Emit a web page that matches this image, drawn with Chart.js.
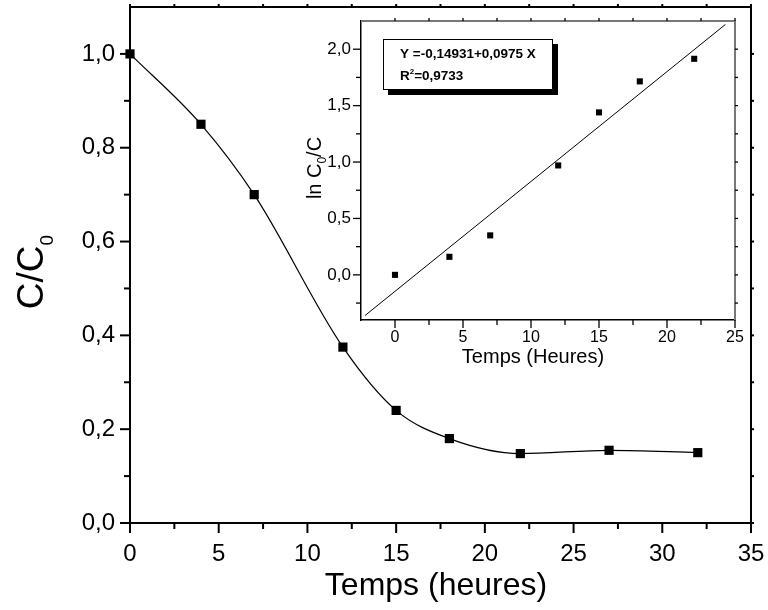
<!DOCTYPE html>
<html>
<head>
<meta charset="utf-8">
<title>C/C0 en fonction du temps</title>
<script src="https://cdn.jsdelivr.net/npm/chart.js@4.4.1/dist/chart.umd.min.js"></script>
<style>
  html, body { margin: 0; padding: 0; background: #fff; }
  #wrap { position: relative; width: 768px; height: 610px; }
  #mainChart { position: absolute; left: 0; top: 0; }
  #insetChart { position: absolute; left: 290px; top: 10px; }
</style>
</head>
<body>
<div id="wrap">
  <canvas id="mainChart" width="768" height="610"></canvas>
  <canvas id="insetChart" width="460" height="370"></canvas>
</div>
<script>
// main plot: C/C0 vs time
const mainTime = [0, 4, 7, 12, 15, 18, 22, 27, 32];
const mainRatio = [1.0, 0.85, 0.70, 0.375, 0.24, 0.18, 0.148, 0.155, 0.15];
const mainXTicks = [0, 5, 10, 15, 20, 25, 30, 35];
const mainYTicks = [0, 0.2, 0.4, 0.6, 0.8, 1.0];

// inset: ln(C0/C) vs time, with linear fit
const insetTime = [0, 4, 7, 12, 15, 18, 22];
const insetLn = [0.0, 0.16, 0.35, 0.97, 1.44, 1.715, 1.915];
const fitTime = [-2.2, 24.3];
const fitLn = [-0.36, 2.22];
const insetXTicks = [0, 5, 10, 15, 20, 25];
const insetYTicks = [0, 0.5, 1.0, 1.5, 2.0];

const FONT = "'Liberation Sans', Arial, Helvetica, sans-serif";
const comma = v => v.toFixed(1).replace('.', ',');
const toXY = (xs, ys) => xs.map((x, i) => ({ x: x, y: ys[i] }));

// no extra room for overflowing end labels, the layout padding decides the plot box
const noOverflowX = h => s => { s.height = h; s.paddingLeft = 0; s.paddingRight = 0; };
const noOverflowY = w => s => { s.width = w; s.paddingTop = 0; s.paddingBottom = 0; };

// draw a run of text pieces (for subscripts / superscripts), optionally rotated
function drawParts(ctx, parts, x, y, rotated, align) {
  ctx.save();
  ctx.translate(x, y);
  if (rotated) ctx.rotate(-Math.PI / 2);
  ctx.textBaseline = 'alphabetic';
  ctx.textAlign = 'left';
  let total = 0;
  parts.forEach(p => {
    ctx.font = (p.bold ? 'bold ' : '') + p.size + 'px ' + FONT;
    p.w = ctx.measureText(p.t).width;
    total += p.w + (p.gap || 0);
  });
  let cx = align === 'left' ? 0 : -total / 2;
  parts.forEach(p => {
    ctx.font = (p.bold ? 'bold ' : '') + p.size + 'px ' + FONT;
    ctx.fillText(p.t, cx, p.dy || 0);
    cx += p.w + (p.gap || 0);
  });
  ctx.restore();
}

// ticks (outward), top/right frame, titles and text box
const framePlugin = {
  id: 'frame',
  afterDraw(chart, args, o) {
    const ctx = chart.ctx, a = chart.chartArea;
    const sx = chart.scales.x, sy = chart.scales.y;
    ctx.save();
    ctx.lineCap = 'butt';
    ctx.strokeStyle = o.edgeColor;
    ctx.lineWidth = o.edgeWidth;
    ctx.beginPath();
    ctx.moveTo(a.left, a.top);
    ctx.lineTo(a.right, a.top);
    ctx.lineTo(a.right, a.bottom);
    ctx.stroke();

    const line = (x1, y1, x2, y2) => {
      ctx.beginPath(); ctx.moveTo(x1, y1); ctx.lineTo(x2, y2); ctx.stroke();
    };
    const minors = (majors, step, min, max) => {
      const out = [];
      majors.forEach(m => [m - step / 2, m + step / 2].forEach(v => {
        if (v > min + 1e-9 && v < max - 1e-9 && out.every(u => Math.abs(u - v) > 1e-9)) out.push(v);
      }));
      return out;
    };
    ctx.lineWidth = o.tickWidth;
    ctx.strokeStyle = '#000';
    const xMaj = sx.ticks.map(t => t.value);
    const yMaj = sy.ticks.map(t => t.value);
    const xStep = xMaj[1] - xMaj[0], yStep = yMaj[1] - yMaj[0];
    xMaj.forEach(v => {
      const p = sx.getPixelForValue(v);
      line(p, a.bottom, p, a.bottom + o.major);
      line(p, a.top, p, a.top - o.mirror);
    });
    minors(xMaj, xStep, sx.min, sx.max).forEach(v => {
      const p = sx.getPixelForValue(v);
      line(p, a.bottom, p, a.bottom + o.minor);
      line(p, a.top, p, a.top - o.mirror);
    });
    yMaj.forEach(v => {
      const p = sy.getPixelForValue(v);
      line(a.left, p, a.left - o.major, p);
      line(a.right, p, a.right + o.mirror, p);
    });
    minors(yMaj, yStep, sy.min, sy.max).forEach(v => {
      const p = sy.getPixelForValue(v);
      line(a.left, p, a.left - o.minor, p);
      line(a.right, p, a.right + o.mirror, p);
    });

    if (o.box) {
      const b = o.box;
      ctx.fillStyle = '#000';
      ctx.fillRect(b.x + 5, b.y + 5, b.w, b.h);
      ctx.fillStyle = '#fff';
      ctx.fillRect(b.x, b.y, b.w, b.h);
      ctx.lineWidth = 1;
      ctx.strokeRect(b.x + 0.5, b.y + 0.5, b.w - 1, b.h - 1);
    }
    ctx.fillStyle = '#000';
    (o.texts || []).forEach(t => drawParts(ctx, t.parts, t.x, t.y, t.rotated, t.align));
    ctx.restore();
  }
};

const mainCtx = document.getElementById('mainChart').getContext('2d');
const mainChart = new Chart(mainCtx, {
  type: 'line',
  data: {
    datasets: [{
      data: toXY(mainTime, mainRatio),
      borderColor: '#000',
      borderWidth: 1.2,
      backgroundColor: '#000',
      pointStyle: 'rect',
      pointRadius: 6.5,
      pointBorderWidth: 0,
      cubicInterpolationMode: 'monotone',
      clip: false
    }]
  },
  options: {
    responsive: false,
    animation: false,
    layout: { padding: { left: 0, top: 7, right: 17, bottom: 0 } },
    plugins: {
      legend: { display: false },
      tooltip: { enabled: false },
      frame: {
        edgeColor: '#000', edgeWidth: 2, tickWidth: 2,
        major: 10, minor: 6, mirror: 3,
        texts: [
          { parts: [{ t: 'C/C', size: 37 }, { t: '0', size: 19, dy: 10, gap: 0 }], x: 43, y: 272, rotated: true },
          { parts: [{ t: 'Temps (heures)', size: 32 }], x: 436, y: 595 }
        ]
      }
    },
    scales: {
      x: {
        type: 'linear', min: 0, max: 35,
        afterBuildTicks: s => { s.ticks = mainXTicks.map(v => ({ value: v })); },
        afterFit: noOverflowX(87),
        grid: { display: false, drawTicks: false },
        border: { display: true, color: '#000', width: 2 },
        ticks: { color: '#000', padding: 17, maxRotation: 0, font: { family: FONT, size: 24 } }
      },
      y: {
        type: 'linear', min: 0, max: 1.1,
        afterBuildTicks: s => { s.ticks = mainYTicks.map(v => ({ value: v })); },
        afterFit: noOverflowY(130),
        grid: { display: false, drawTicks: false },
        border: { display: true, color: '#000', width: 2 },
        ticks: { color: '#000', padding: 15, font: { family: FONT, size: 24 }, callback: v => comma(v) }
      }
    }
  },
  plugins: [framePlugin]
});

const insetCtx = document.getElementById('insetChart').getContext('2d');
const insetChart = new Chart(insetCtx, {
  type: 'scatter',
  data: {
    datasets: [{
      type: 'line',
      data: toXY(fitTime, fitLn),
      borderColor: '#000',
      borderWidth: 1,
      pointRadius: 0,
      clip: false
    }, {
      data: toXY(insetTime, insetLn),
      backgroundColor: '#000',
      pointStyle: 'rect',
      pointRadius: 4.3,
      pointBorderWidth: 0,
      clip: false
    }]
  },
  options: {
    responsive: false,
    animation: false,
    layout: { padding: { left: 0, top: 11, right: 15, bottom: 0 } },
    plugins: {
      legend: { display: false },
      tooltip: { enabled: false },
      frame: {
        edgeColor: '#777', edgeWidth: 2, tickWidth: 1.3,
        major: 8, minor: 5, mirror: 3,
        box: { x: 93, y: 29, w: 170, h: 51 },
        texts: [
          { parts: [{ t: 'Y =-0,14931+0,0975 X', size: 13.5, bold: true }], x: 110, y: 48, align: 'left' },
          { parts: [{ t: 'R', size: 13.5, bold: true }, { t: '2', size: 8, bold: true, dy: -6 }, { t: '=0,9733', size: 13.5, bold: true }], x: 110, y: 70, align: 'left' },
          { parts: [{ t: 'ln C', size: 20 }, { t: '0', size: 12, dy: 5 }, { t: '/C', size: 20 }], x: 31, y: 158, rotated: true },
          { parts: [{ t: 'Temps (Heures)', size: 20 }], x: 243, y: 353 }
        ]
      }
    },
    scales: {
      x: {
        type: 'linear', min: -2.5, max: 25,
        afterBuildTicks: s => { s.ticks = insetXTicks.map(v => ({ value: v })); },
        afterFit: noOverflowX(60),
        grid: { display: false, drawTicks: false },
        border: { display: true, color: '#000', width: 1.5 },
        ticks: { color: '#000', padding: 8, maxRotation: 0, font: { family: FONT, size: 16 } }
      },
      y: {
        type: 'linear', min: -0.4, max: 2.25,
        afterBuildTicks: s => { s.ticks = insetYTicks.map(v => ({ value: v })); },
        afterFit: noOverflowY(71),
        grid: { display: false, drawTicks: false },
        border: { display: true, color: '#000', width: 1.5 },
        ticks: { color: '#000', padding: 10, font: { family: FONT, size: 17 }, callback: v => comma(v) }
      }
    }
  },
  plugins: [framePlugin]
});
</script>
</body>
</html>
